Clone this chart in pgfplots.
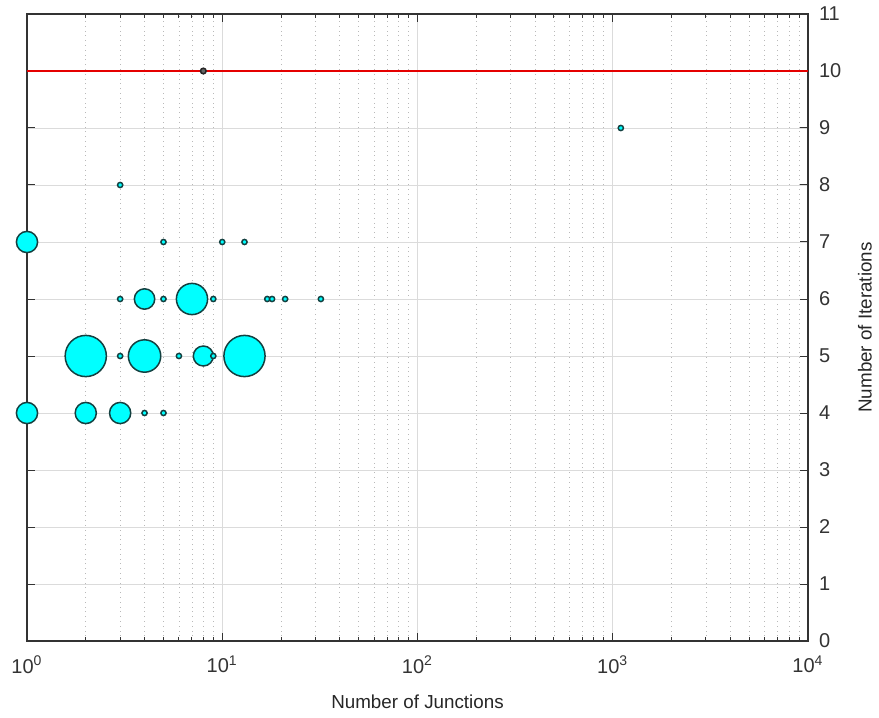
\documentclass[border=0pt]{standalone}
\usepackage{pgfplots}
\pgfplotsset{compat=1.18}
\usepackage{pgfplotstable}
\usepackage{fontspec}
\setmainfont{Liberation Sans}
\definecolor{edge}{rgb}{0.08,0.25,0.25}
\definecolor{bubblecyan}{rgb}{0,1,1}
\pgfplotstableread{
x y r
1 4 5.3
2 4 5.3
3 4 5.3
4 4 1.3
5 4 1.3
2 5 10.3
3 5 1.3
4 5 8.1
6 5 1.3
8 5 5.0
9 5 1.3
13 5 10.3
3 6 1.3
4 6 5.1
5 6 1.3
7 6 7.8
9 6 1.3
17 6 1.3
18 6 1.3
21 6 1.3
32 6 1.3
1 7 5.3
5 7 1.3
10 7 1.3
13 7 1.3
3 8 1.3
1100 9 1.3
}\bubbles
\pgfplotstableread{
x y r
8 10 1.4
}\greybubble
\begin{document}
\begin{tikzpicture}
\begin{axis}[
  at={(0,0)}, anchor=south west,
  scale only axis, width=390.5pt, height=313.5pt,
  xmode=log, xmin=1, xmax=10000, ymin=0, ymax=11,
  log basis x=10,
  xtick={1,10,100,1000,10000},
  minor xtick={2,3,4,5,6,7,8,9,20,30,40,50,60,70,80,90,200,300,400,500,600,700,800,900,2000,3000,4000,5000,6000,7000,8000,9000},
  xticklabels={{10\textsuperscript{0}},{10\textsuperscript{1}},{10\textsuperscript{2}},{10\textsuperscript{3}},{10\textsuperscript{4}}},
  ytick={0,1,...,11},
  yticklabel pos=right,
  ylabel near ticks,
  /pgf/number format/assume math mode=true,
  tick label style={font=\fontsize{10}{12}\selectfont, color=black!80},
  xticklabel style={yshift=-4pt},
  yticklabel style={xshift=2pt},
  label style={font=\fontsize{9.4}{11}\selectfont, color=black!85},
  xlabel={Number of Junctions},
  ylabel={Number of Iterations},
  xlabel style={yshift=-4pt},
  ylabel style={yshift=-1.5pt},
  grid=both,
  major grid style={gray!28, line width=0.4pt},
  minor grid style={gray!55, dotted, line width=0.4pt},
  major tick length=4pt, minor tick length=2.2pt,
  tick style={black!80, line width=0.5pt},
  axis line style={black!80, line width=0.6pt},
  clip=false,
]
\addplot[red!90!black, line width=0.7pt, forget plot] coordinates {(1,10) (10000,10)};
\addplot[scatter, only marks, mark=*, line width=0.75pt,
  visualization depends on={\thisrow{r}\as\rad},
  scatter/@pre marker code/.code={\scope[mark size=\rad, draw=edge, fill=bubblecyan]},
  scatter/@post marker code/.code={\endscope}]
  table[x=x, y=y] {\bubbles};
\addplot[scatter, only marks, mark=*, line width=0.75pt,
  visualization depends on={\thisrow{r}\as\rad},
  scatter/@pre marker code/.code={\scope[mark size=\rad, draw=black!85, fill=black!60]},
  scatter/@post marker code/.code={\endscope}]
  table[x=x, y=y] {\greybubble};
\end{axis}
\pgfresetboundingbox
\path (-13.5pt,-38.5pt) rectangle (426pt,320.5pt);
\end{tikzpicture}
\end{document}
